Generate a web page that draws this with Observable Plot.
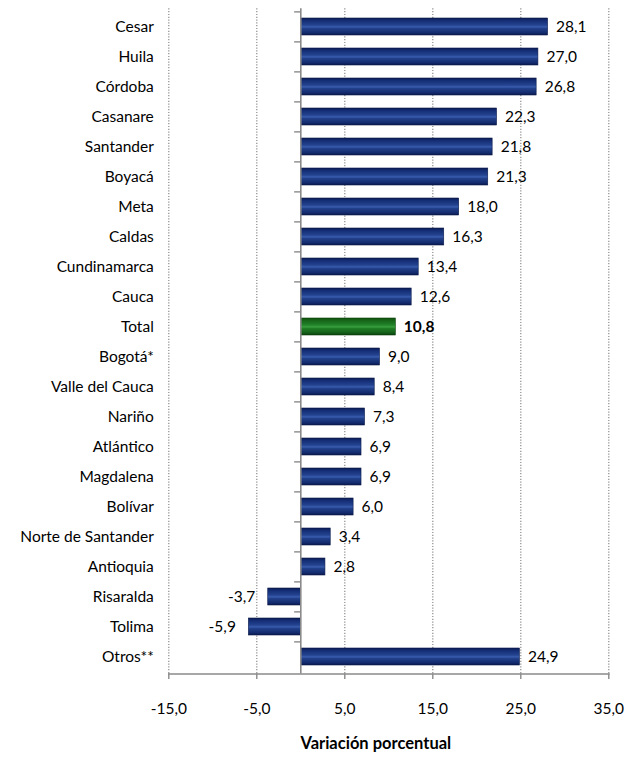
<!DOCTYPE html>
<html>
<head>
<meta charset="utf-8">
<script src="https://cdn.jsdelivr.net/npm/d3@7"></script>
<script src="https://cdn.jsdelivr.net/npm/@observablehq/plot@0.6"></script>
<style>
  html, body { margin: 0; padding: 0; background: #fff; }
</style>
</head>
<body>
<div id="chart"></div>
<script>
const categories = ["Cesar","Huila","Córdoba","Casanare","Santander","Boyacá","Meta","Caldas","Cundinamarca","Cauca","Total","Bogotá*","Valle del Cauca","Nariño","Atlántico","Magdalena","Bolívar","Norte de Santander","Antioquia","Risaralda","Tolima","Otros**"];
const values = [28.1,27.0,26.8,22.3,21.8,21.3,18.0,16.3,13.4,12.6,10.8,9.0,8.4,7.3,6.9,6.9,6.0,3.4,2.8,-3.7,-5.9,24.9];
const xTicks = [-15,-5,5,15,25,35];
const highlight = "Total";
const axisTitle = "Variación porcentual";

const data = categories.map((c, i) => ({cat: c, value: values[i]}));
const fmt = v => v.toFixed(1).replace(".", ",");

const normal = data.filter(d => d.cat !== highlight);
const total = data.filter(d => d.cat === highlight);
const FS = 15.5;

const chart = Plot.plot({
  width: 627,
  height: 758,
  marginLeft: 168.3,
  marginRight: 18.7,
  marginTop: 8.3,
  marginBottom: 84.5,
  style: {fontFamily: "Lato, 'Open Sans', sans-serif", fontSize: FS + "px", color: "#000", background: "#fff"},
  x: {domain: [-15, 35], label: null},
  y: {domain: categories, paddingInner: 0.44, paddingOuter: 0.22, label: null},
  marks: [
    Plot.gridX(xTicks, {stroke: "#8a8a8a", strokeOpacity: 1, strokeWidth: 1.2, strokeDasharray: "1.2,1.6"}),
    Plot.barX(normal, {x: "value", y: "cat", fill: "url(#gBlue)", stroke: "#0a1a4a", strokeWidth: 0.6}),
    Plot.barX(total, {x: "value", y: "cat", fill: "url(#gGreen)", stroke: "#0c420c", strokeWidth: 0.6}),
    Plot.ruleX([0], {stroke: "#8a8a8a", strokeWidth: 1.6}),
    Plot.ruleY(categories, {y: d => d, x1: -0.7, x2: 0, dy: -15.12, stroke: "#8a8a8a", strokeWidth: 1.4}),
    Plot.frame({anchor: "bottom", stroke: "#8a8a8a", strokeWidth: 1.6}),
    Plot.axisX({ticks: xTicks, tickFormat: fmt, tickSize: 5.5, tickPadding: 23.5, stroke: "#8a8a8a", strokeWidth: 1.4, label: null, fontSize: FS}),
    Plot.axisY({tickSize: 0, tickPadding: 15, label: null, fontSize: FS}),
    Plot.text(normal.filter(d => d.value >= 0), {x: "value", y: "cat", text: d => fmt(d.value), dx: 8, textAnchor: "start", fontSize: FS}),
    Plot.text(normal.filter(d => d.value < 0), {x: "value", y: "cat", text: d => fmt(d.value), dx: -13, textAnchor: "end", fontSize: FS}),
    Plot.text(total, {x: "value", y: "cat", text: d => fmt(d.value), dx: 8, textAnchor: "start", fontSize: FS, fontWeight: "bold"}),
    Plot.text([axisTitle], {frameAnchor: "bottom", dy: 75, dx: -13, fontWeight: "bold", fontSize: 16.5})
  ]
});

const svg = d3.select(chart);
const defs = svg.insert("defs", ":first-child");
function grad(id, stops) {
  const g = defs.append("linearGradient").attr("id", id)
    .attr("x1", 0).attr("y1", 0).attr("x2", 0).attr("y2", 1);
  stops.forEach(([o, c]) => g.append("stop").attr("offset", o).attr("stop-color", c));
}
grad("gBlue", [[0, "#0a1c52"], [0.18, "#16307a"], [0.42, "#24438f"], [0.52, "#3a5cae"], [0.62, "#21408a"], [0.85, "#142c70"], [1, "#0a1a4c"]]);
grad("gGreen", [[0, "#0f520f"], [0.18, "#17691a"], [0.42, "#22842a"], [0.52, "#3aa040"], [0.62, "#1f7d25"], [0.85, "#15601a"], [1, "#0c420c"]]);

document.getElementById("chart").appendChild(chart);
</script>
</body>
</html>
